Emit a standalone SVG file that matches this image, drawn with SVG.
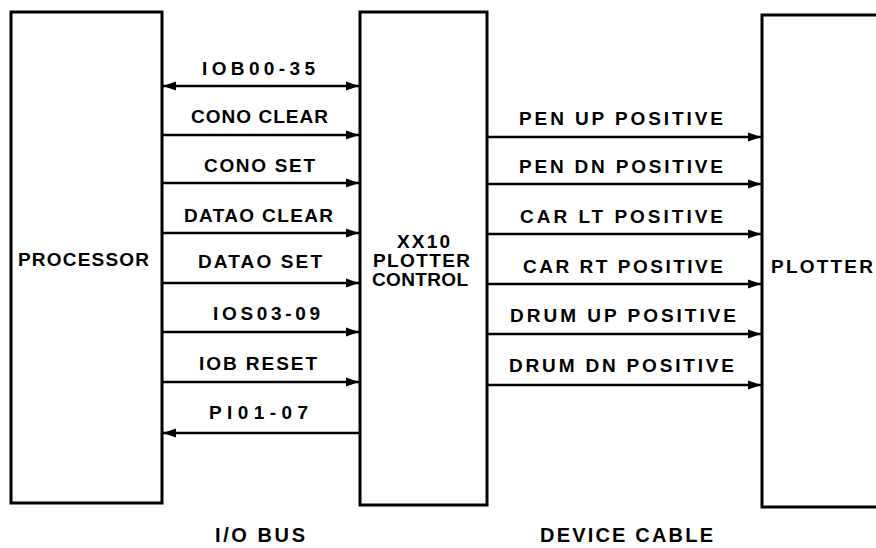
<svg xmlns="http://www.w3.org/2000/svg" width="876" height="548" viewBox="0 0 876 548">
<style>
.box{fill:#fff;stroke:#000;stroke-width:3;stroke-linejoin:miter}
.wire{stroke:#000;stroke-width:2.4;fill:none}
text{font-family:"Liberation Sans",Arial,sans-serif;font-weight:bold;font-size:19px;fill:#000}
.big{font-size:20px}
</style>
<defs>
<marker id="ah" markerUnits="userSpaceOnUse" markerWidth="16" markerHeight="12" refX="13" refY="6" orient="auto-start-reverse">
<path d="M0,1.5 L13,6 L0,10.5 Z" fill="#000"/>
</marker>
</defs>
<rect width="876" height="548" fill="#fff"/>
<g id="processor">
<rect class="box" x="11" y="12" width="151" height="491"/>
<text x="18" y="266" textLength="131" lengthAdjust="spacing">PROCESSOR</text>
</g>
<g id="control">
<rect class="box" x="360" y="12" width="127" height="493"/>
<text x="397" y="248" textLength="53" lengthAdjust="spacing">XX10</text>
<text x="373" y="267" textLength="97" lengthAdjust="spacing">PLOTTER</text>
<text x="372" y="286" textLength="96" lengthAdjust="spacing">CONTROL</text>
</g>
<g id="plotter">
<rect class="box" x="762" y="15" width="140" height="492"/>
<text x="771" y="273" textLength="102" lengthAdjust="spacing">PLOTTER</text>
</g>
<g id="connectors">
<line class="wire" x1="163" y1="86" x2="359" y2="86" marker-start="url(#ah)" marker-end="url(#ah)"/>
<line class="wire" x1="162" y1="135" x2="359" y2="135" marker-end="url(#ah)"/>
<line class="wire" x1="162" y1="183" x2="359" y2="183" marker-end="url(#ah)"/>
<line class="wire" x1="162" y1="233" x2="359" y2="233" marker-end="url(#ah)"/>
<line class="wire" x1="162" y1="283" x2="359" y2="283" marker-end="url(#ah)"/>
<line class="wire" x1="162" y1="332" x2="359" y2="332" marker-end="url(#ah)"/>
<line class="wire" x1="162" y1="382" x2="359" y2="382" marker-end="url(#ah)"/>
<line class="wire" x1="360" y1="433" x2="163" y2="433" marker-end="url(#ah)"/>
<line class="wire" x1="487" y1="137" x2="761" y2="137" marker-end="url(#ah)"/>
<line class="wire" x1="487" y1="184" x2="761" y2="184" marker-end="url(#ah)"/>
<line class="wire" x1="487" y1="234" x2="761" y2="234" marker-end="url(#ah)"/>
<line class="wire" x1="487" y1="284" x2="761" y2="284" marker-end="url(#ah)"/>
<line class="wire" x1="487" y1="334" x2="761" y2="334" marker-end="url(#ah)"/>
<line class="wire" x1="487" y1="385" x2="761" y2="385" marker-end="url(#ah)"/>
<text x="202" y="75" textLength="113" lengthAdjust="spacing">IOB00-35</text>
<text x="191" y="123" textLength="137" lengthAdjust="spacing">CONO CLEAR</text>
<text x="204" y="172" textLength="111" lengthAdjust="spacing">CONO SET</text>
<text x="184" y="222" textLength="149" lengthAdjust="spacing">DATAO CLEAR</text>
<text x="198" y="268" textLength="124" lengthAdjust="spacing">DATAO SET</text>
<text x="213" y="320" textLength="107" lengthAdjust="spacing">IOS03-09</text>
<text x="199" y="370" textLength="118" lengthAdjust="spacing">IOB RESET</text>
<text x="209" y="419" textLength="99" lengthAdjust="spacing">PI01-07</text>
<text x="519" y="125" textLength="204" lengthAdjust="spacing">PEN UP POSITIVE</text>
<text x="519" y="173" textLength="204" lengthAdjust="spacing">PEN DN POSITIVE</text>
<text x="520" y="223" textLength="203" lengthAdjust="spacing">CAR LT POSITIVE</text>
<text x="523" y="273" textLength="200" lengthAdjust="spacing">CAR RT POSITIVE</text>
<text x="510" y="322" textLength="226" lengthAdjust="spacing">DRUM UP POSITIVE</text>
<text x="509" y="372" textLength="225" lengthAdjust="spacing">DRUM DN POSITIVE</text>
</g>
<text class="big" x="215" y="542" textLength="90" lengthAdjust="spacing">I/O BUS</text>
<text class="big" x="540" y="542" textLength="173" lengthAdjust="spacing">DEVICE CABLE</text>
</svg>
